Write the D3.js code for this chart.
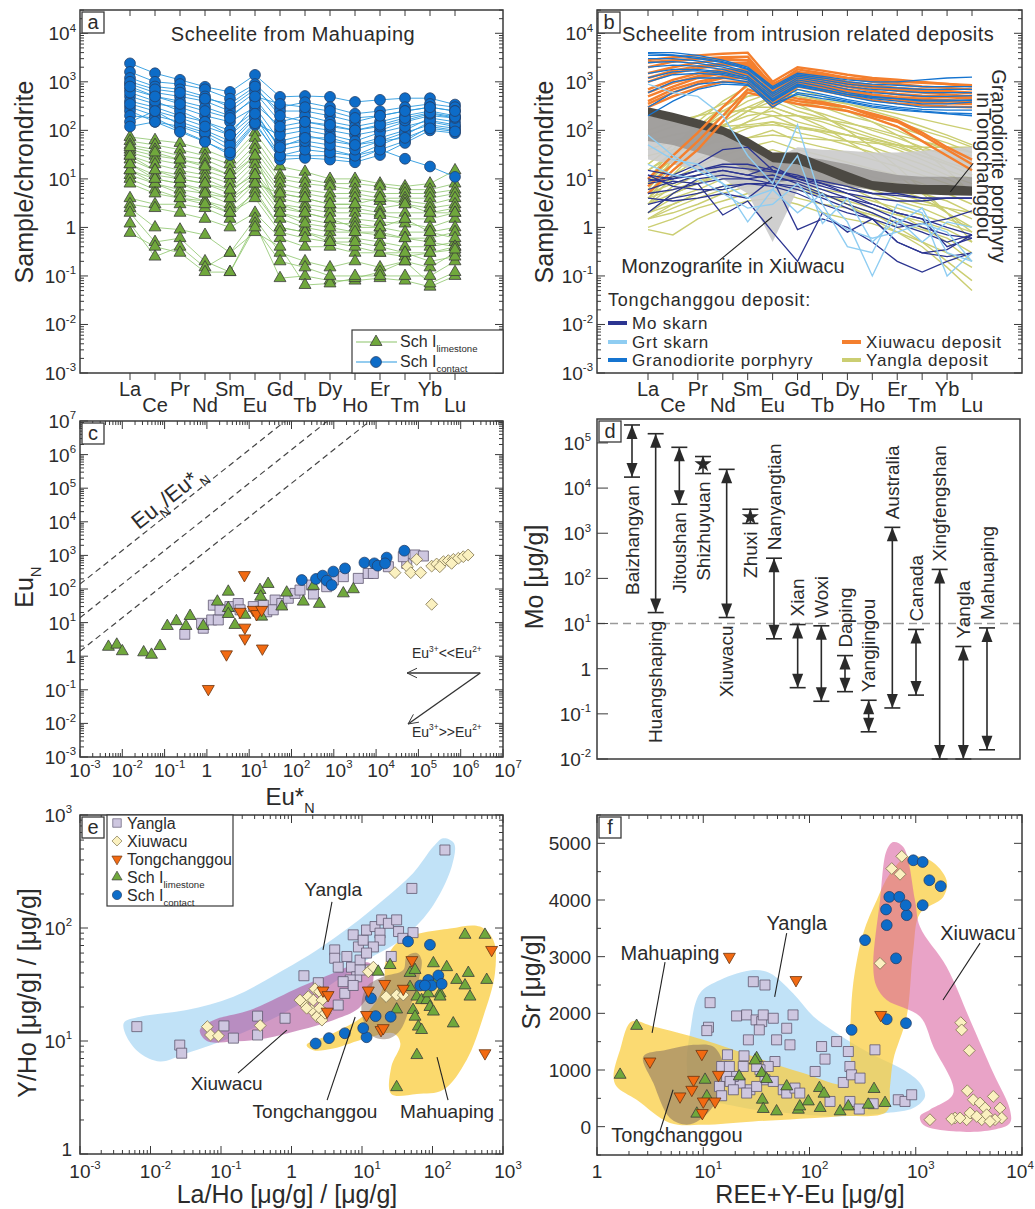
<!DOCTYPE html>
<html>
<head>
<meta charset="utf-8">
<script src="https://cdn.jsdelivr.net/npm/d3@7"></script>
<style>
body { margin: 0; background: #fff; }
text { font-family: "Liberation Sans", Arial, sans-serif; fill: #2b2b2b; }
</style>
</head>
<body>
<svg id="fig" width="1035" height="1209"></svg>
<script>
// ---------------- data ----------------
const REE = ["La","Ce","Pr","Nd","Sm","Eu","Gd","Tb","Dy","Ho","Er","Tm","Yb","Lu"];

// panel a: chondrite-normalised scheelite, Mahuaping
const schContact = [
  [2400,1500,1100,790,620,1390,490,510,490,385,425,460,460,340],
  [1600,1000,900,700,450,900,300,380,300,220,250,300,350,300],
  [1200,800,700,500,300,700,250,250,200,150,200,250,300,250],
  [900,600,500,400,250,600,150,200,150,120,150,200,250,200],
  [700,500,400,300,200,450,100,120,100,80,100,150,200,180],
  [500,350,300,200,150,300,60,80,60,50,70,100,180,150],
  [400,300,200,150,100,250,40,50,40,30,50,80,150,120],
  [300,200,150,100,60,200,30,30,30,25,40,60,120,100],
  [250,150,120,80,40,150,25,27,25,22,31,55,100,88],
  [200,180,100,60,31,130,30,40,35,30,40,26,18,11],
  [150,250,130,90,50,180,50,60,50,40,60,90,130,110],
  [120,150,93,58,35,140,80,100,80,60,90,120,160,130],
  [1000,700,600,450,350,800,200,150,120,100,120,160,220,180],
  [600,400,250,150,80,350,120,150,130,100,130,180,230,190],
  [350,250,180,120,80,220,45,70,70,50,60,70,110,95],
  [800,500,350,250,180,500,350,300,250,180,200,250,300,250]
];
const schLimestone = [
  [73,63,55,40,25,90,18,14,10,10,8,7,8,15],
  [60,50,40,30,20,70,12,10,8,8,7,6,6,8],
  [50,40,30,25,15,50,10,8,7,6,5,5,5,6],
  [40,30,25,20,12,40,8,6,5,5,4,4,4,5],
  [35,25,20,15,10,30,6,5,4,4,3.5,3.5,3,4],
  [30,20,15,12,8,25,5,4,3,3,2.5,3,2.5,3],
  [25,15,12,10,6,20,4,3,2.5,2.5,2,2,2,2.5],
  [20,12,10,8,5,15,3,2.5,2,2,1.8,1.5,1.5,2],
  [15,10,8,6,4,12,2.5,2,1.5,1.5,1.3,1.2,1,1.5],
  [12,8,6,5,3,10,2,1.5,1.2,1.2,1,0.8,0.8,1],
  [10,6,4,3.5,2.5,8,1.5,1,0.8,0.8,0.8,0.6,0.6,0.8],
  [4,3,3,2.5,1.5,6,1,0.8,0.6,0.6,0.5,0.4,0.4,0.5],
  [3,2.5,2,1.5,1,2,0.6,0.4,0.4,0.3,0.3,0.25,0.3,0.4],
  [2.5,1,0.9,0.7,0.3,1.5,0.3,0.2,0.15,0.2,0.15,0.2,0.15,0.3],
  [2,0.5,0.6,0.2,0.12,1.2,0.09,0.1,0.08,0.08,0.09,0.08,0.06,0.1],
  [1.2,0.25,0.4,0.15,0.3,0.8,0.4,0.065,0.07,0.09,0.12,0.2,0.07,0.12],
  [0.77,0.4,0.3,0.12,0.12,1,0.2,0.15,0.1,0.1,0.1,0.1,0.1,0.2],
  [15,8,5,3.5,2,5,1,0.8,0.5,0.4,0.3,0.3,0.2,0.25],
  [20,10,8,5,4,8,5,4,3,3,4,3,2,2],
  [30,15,10,8,6,12,3,2,1.5,1,1,1.5,0.8,0.6],
  [45,35,25,18,12,30,2,1.2,1,0.8,0.7,0.6,0.5,0.4],
  [8,5,4,3,2,4,0.8,0.6,0.5,0.5,0.4,0.3,0.3,0.35]
];

// panel b: intrusion related deposits
const xiuwacuREE = [
  [2800,3200,3500,3800,4000,1000,2000,1700,1400,1200,1100,1000,900,800],
  [2000,2600,3000,3200,3300,800,1800,1500,1200,1000,900,800,750,700],
  [1500,2000,2500,2800,2800,700,1500,1300,1000,850,750,700,650,600],
  [1000,1500,1900,2200,2200,600,1300,1100,900,750,650,600,550,500],
  [700,1100,1500,1800,1800,500,1100,950,800,650,550,500,480,450],
  [500,800,1200,1500,1500,450,1000,850,700,550,480,450,420,400],
  [350,600,900,1200,1200,350,900,750,600,480,420,380,360,350],
  [300,500,750,1000,1000,300,800,650,520,420,360,330,310,300],
  [2500,2800,3000,3000,2800,900,1600,1400,1200,1100,1000,950,900,850],
  [1200,1700,2100,2400,2500,650,1400,1200,950,800,700,650,620,580],
  [600,950,1300,1600,1700,500,1200,1000,800,650,560,520,500,480],
  [400,700,1000,1300,1400,400,950,800,650,520,450,420,400,380],
  [7,20,60,200,700,500,400,350,300,200,150,80,40,20],
  [10,30,90,300,900,600,450,380,300,220,160,90,45,25],
  [5,15,40,150,600,450,350,300,250,180,120,60,30,15]
];
const granodioriteREE = [
  [4000,4000,3500,2800,2000,800,1500,1300,1100,1000,1000,1100,1200,1250],
  [3500,3500,3000,2500,1800,700,1300,1100,900,800,750,700,700,700],
  [3000,3000,2700,2200,1600,600,1200,1000,800,700,650,600,600,600],
  [2500,2600,2400,2000,1500,550,1100,900,700,600,550,500,500,520],
  [2000,2200,2100,1800,1300,500,1000,800,600,500,450,400,400,420],
  [1500,1800,1800,1600,1200,450,900,700,550,450,400,350,350,380],
  [1000,1400,1500,1400,1100,400,800,650,500,400,350,300,300,300],
  [600,1000,1200,1200,1000,350,700,550,430,350,300,270,260,260],
  [300,600,900,1000,900,300,600,500,400,320,280,250,230,220],
  [200,400,700,900,850,350,550,450,380,300,260,240,220,200],
  [3800,3600,3200,2600,1900,750,1400,1200,1000,900,850,800,800,800],
  [1200,1600,1700,1500,1200,420,850,700,550,480,450,420,420,420]
];
const yanglaREE = [
  [10,40,150,400,800,1000,700,500,350,250,180,120,80,50],
  [8,30,120,300,600,900,600,400,300,200,150,100,70,45],
  [6,25,90,250,500,700,500,350,250,180,120,80,55,35],
  [5,20,70,200,400,600,400,300,200,150,100,60,40,25],
  [4,15,50,150,300,500,300,220,150,100,70,45,30,20],
  [3,12,40,120,250,400,250,180,120,80,55,35,22,15],
  [20,50,100,200,300,300,200,150,100,70,50,30,20,12],
  [15,35,70,130,200,250,150,110,80,60,40,25,15,10],
  [10,25,50,90,150,200,120,90,60,45,30,20,12,8],
  [8,20,40,70,110,150,90,70,50,35,25,15,10,6],
  [5,12,25,45,70,100,60,45,35,25,18,12,8,5],
  [4,10,18,30,45,60,40,30,22,16,12,8,5,3],
  [3,7,12,20,30,40,28,20,15,11,8,5,3.5,2],
  [2,5,8,14,20,25,18,13,10,7,5,3.5,2.5,1.5],
  [2,4,6,10,14,18,12,9,7,5,3.5,2.5,1.5,1],
  [1.5,3,5,7,10,12,8,6,5,3.5,2.5,1.8,1.2,0.8],
  [1.5,2,3,5,7,8,6,4.5,3.5,2.5,1.8,1.3,0.9,0.5],
  [1,1.5,2.5,3.5,5,6,4,3,2.5,1.8,1.3,0.9,0.6,0.3],
  [0.9,0.7,1.5,2.5,3.5,4,3,2,1.5,1.2,0.8,0.5,0.3,0.15],
  [60,80,100,120,130,150,120,100,80,60,45,30,20,12],
  [100,150,200,250,250,200,200,170,140,110,80,60,45,35],
  [40,60,80,100,120,130,110,95,80,65,50,40,35,30],
  [30,40,50,60,70,80,70,65,60,55,50,45,45,45],
  [5,8,12,18,25,30,20,15,12,9,6,4,2,1],
  [3,5,8,12,16,20,14,10,7,4,2,1,0.5,0.2],
  [2,3,5,7,9,12,8,5,3,1.5,0.8,0.4,0.15,0.05],
  [10,20,40,80,150,300,200,120,60,30,12,5,2,0.8],
  [15,30,60,120,250,500,350,200,100,45,18,6,2,0.5],
  [20,50,120,300,600,800,600,400,250,150,80,40,15,5],
  [1.5,2.5,4,6,8,10,7,5,3,2,1,0.5,0.2,0.08],
  [4,6,9,13,17,20,15,11,8,6,4,3,2.5,2],
  [80,120,200,350,500,600,500,420,350,280,220,170,130,100]
];
const moSkarnREE = [
  [15,12,20,40,45,15,10,7,5,4,3.5,3.5,4,4],
  [10,8,12,15,12,18,10,8,6,5,5,4,4,4],
  [12,10,15,20,20,15,12,8,5,3,2,1.5,1,0.7],
  [8,10,12,15,12,10,9,6,4,2.5,1.5,1,0.7,0.6],
  [5,6,8,10,10,12,8,5,3,2,1.2,0.8,0.5,0.7],
  [3,4,5,7,8,8,6,4,2.5,1.5,0.5,0.3,0.25,0.3],
  [6,9,8,1.8,3.5,0.8,0.2,2,0.8,1.5,0.5,0.3,0.35,0.7],
  [4,3.5,4,5,4,10,0.9,1.5,1,0.5,0.2,0.12,0.2,0.3],
  [12,7,6,6,8,7,5,3,2,1.5,1,1.2,1.5,2.2],
  [2,5,10,12,10,8,7,4.5,4,3,2,1.5,0.4,0.6],
  [9,11,15,18,16,14,11,9,7,5,4.5,4,4,4]
];
const grtSkarnREE = [
  [900,600,500,200,30,8,130,3,0.4,0.3,3,2,0.1,0.3],
  [80,30,15,8,1.3,6,30,1.2,4,0.5,1.5,0.5,1.3,1],
  [20,12,10,5,2.5,3,8,2,0.9,0.6,0.8,1.2,0.8,0.2],
  [50,25,20,8,4,6,2,5,1.3,0.1,1.2,2.5,0.3,0.2]
];
const monzoUpper = [230,180,140,100,60,25,45,40,38,35,35,38,42,46];
const monzoLower = [25,20,15,10,5,0.5,6,7,8,8,9,10,11,11];
const grdWideUpper = [200,160,120,90,50,30,30,25,20,15,12,11,11,11];
const grdWideLower = [60,50,35,25,15,8,10,8,7,6,6,6,6,6];
const grdCoreUpper = [300,230,170,120,70,35,35,22,14,9,8,7.5,7.5,7];
const grdCoreLower = [200,150,110,80,45,22,20,13,8,6,5,4.8,4.6,4.5];

// panel c: Eu_N vs Eu*_N
const euYangla = [[0.30,4.5],[0.82,6.8],[0.75,9.5],[1.3,12],[1.86,12],[1.42,33],[2.04,24],[3.5,30],[5.5,37],[6.1,24],[12.5,30],[21.6,33],[26,21],[41,47],[37,24],[59,37],[84,53],[121,74],[159,93],[330,71],[300,131],[680,117],[975,185],[1680,233],[3800,207],[6500,290],[8600,290],[19500,460],[53000,580],[83000,1030],[131000,960],[44000,915]];
const euXiuwacu = [[28000,306],[55000,460],[66000,306],[91000,760],[113000,306],[206000,480],[270000,555],[390000,650],[510000,700],[670000,760],[880000,820],[1150000,915],[1500000,1030],[206000,35],[610000,580],[320000,460]];
const euTongchanggou = [[7.7,260],[6.1,21],[7.9,7.1],[7.9,3.4],[12.5,24],[15,18],[19.7,24],[20.5,1.7],[2.9,1.14],[1.08,0.106]];
const euLimestone = [[0.0047,1.9],[0.0074,2.2],[0.010,1.4],[0.032,1.3],[0.049,1.1],[0.078,2.0],[0.116,7.9],[0.19,11],[0.32,7.9],[0.4,15.7],[0.82,7.9],[1.77,42],[3.2,83],[3.2,27],[3.2,18],[4.6,8.5],[7.9,17],[18,93],[18.7,59],[19.7,15],[28,141],[59,30],[77,78],[190,42],[330,123],[455,36],[1680,74],[2900,98]];
const euContact = [[175,185],[380,199],[545,250],[680,177],[890,131],[975,330],[1840,410],[5300,610],[9100,580],[10900,495],[17800,860],[46500,1380],[16300,580]];
const euRatios = [1.4e3, 1.4e4, 1.4e5];

// panel d: Mo contents of scheelite by deposit
const moDeposits = ["Baizhangyan","Huangshaping","Jitoushan","Shizhuyuan","Xiuwacu","Zhuxi","Nanyangtian","Xian","Woxi","Daping","Yangjingou","Australia","Canada","Xingfengshan","Yangla","Mahuaping"];
const moMax = [2.5e5,1.6e5,8e4,5e4,2.6e4,3400,280,9.5,8.9,1.95,0.2,1350,7.4,158,3.1,8];
const moMin = [1.75e4,17.5,4400,2.1e4,13.6,1650,4.6,0.38,0.19,0.31,0.04,0.135,0.26,0.01,0.01,0.016];
const moMean = [null,null,null,3.4e4,null,2300,null,null,null,null,null,null,null,null,null,null];
const moRef = 10;

// panel e: Y/Ho vs La/Ho
const lhYangla = [[0.0064,13.4],[0.026,9.2],[0.0277,7.8],[0.11,13.6],[0.15,10.6],[0.33,11.3],[0.33,16.6],[0.81,15.9],[1.5,37.8],[2.4,32.8],[4.6,20.8],[5.7,26.4],[4.1,64],[4.1,54],[7.5,87],[6.1,56],[7.1,45],[9.4,52],[8.9,68],[10.4,78],[11.6,96],[15.3,103],[18,90],[19,118],[23.7,110],[31,118],[33,93],[18,78],[14.5,68],[8.4,37],[6.8,34.7],[5.4,33.5],[7.5,31],[13,42.5],[26,56],[38,81],[53,91],[51,224],[150,490],[9.4,42.5],[11.6,60],[4.6,45]];
const lhXiuwacu = [[0.064,13.4],[0.071,11.3],[0.092,11.1],[0.36,13.7],[1.47,21.6],[1.73,24.7],[2.15,29],[2.5,27.3],[1.93,18.8],[2.3,16.4],[2.7,15.3],[1.64,19.5],[2.04,23],[2.7,23],[2.5,19.5],[12.3,41],[14.5,45],[22,24.7],[31,25.5],[38.5,25.5],[1.32,23],[3,17.6]];
const lhTongchanggou = [[2.8,28],[3.3,25.5],[3.2,18.2],[12.3,28],[11.6,17],[18.6,12.5],[21,32],[38.5,29],[51,52],[690,64],[555,7.8],[20,13]];
const lhLimestone = [[17,41],[25,47],[31,19],[48,40],[56.5,42.5],[60,24.7],[70,23],[53,18.8],[56.5,16.4],[63,13.4],[70,12.5],[83,23],[87,26.4],[92,20],[103,48.7],[103,18.2],[115,34.7],[128,26.4],[128,24.7],[159,45],[197,14.3],[220,34.7],[289,31],[289,87],[322,40],[340,24.7],[555,87],[587,34.7],[60,7.5],[31,3.9],[48,30]];
const lhContact = [[2.2,9.5],[3.4,10.6],[5.7,11.7],[11.6,10.8],[10.4,13],[13.4,23.9],[15.6,16.6],[25.5,16.4],[45,76],[92,71],[67,31],[87,34.7],[97,31],[121,38],[135,32],[78,31]];
const eYanglaField = [[0.0042,14.5],[0.0071,16.4],[0.0326,18.8],[0.15,24.7],[0.77,42.5],[2.3,64],[6.8,103],[20,177],[53,305],[103,525],[142,622],[202,562],[187,349],[92,144],[35,78],[11.6,52],[3.2,30],[0.77,17.6],[0.15,10.9],[0.0326,7.8],[0.0136,6.6],[0.0071,7.8],[0.0046,10.9]];
const eXiuwacuField = [[0.050,12.5],[0.078,15.3],[0.26,18.8],[1.32,30],[3.9,39.7],[7.5,47],[13,48.7],[14.5,34.7],[9.4,20],[3.9,15.3],[1.32,12.5],[0.44,10.6],[0.15,9.9],[0.063,10]];
const eMahuapingField = [[1.64,9.2],[3.9,11.7],[11.6,17.6],[20,30],[22,52],[35,78],[177,99],[472,103],[730,78],[770,40],[525,16.4],[305,6.8],[142,3.7],[60,3.4],[26,3.4],[26,5.9],[35,9.5],[28,11.7],[11.6,10.6],[3.9,8.6],[2.04,8.3]];
const eTongchanggouField = [[9.9,17.6],[11.6,30],[20,37],[38.5,42.5],[43,56],[60,60],[70,52],[60,30],[48,20],[35,12.5],[25,10.6],[14.5,10.9]];

// panel f: Sr vs REE+Y-Eu
const srYangla = [[11.6,2188],[11.2,1755],[10.8,1695],[16.9,1268],[14.9,1062],[14.2,710],[14.9,546],[20.6,1954],[25.6,1972],[26.6,1532],[24.2,1250],[23.8,1062],[29.6,2558],[38.1,2500],[31.4,1884],[35.5,1854],[33.7,1708],[36.7,1972],[45.6,1913],[47.3,1150],[40.9,1062],[49,1532],[61,1737],[65.5,1444],[70,1972],[56.6,651],[61,593],[73,681],[81,593],[34.2,1004],[38.1,827],[27.5,651],[22.2,769],[19.2,886],[16.6,886],[25.6,593],[31.8,710],[45.6,798],[113,974],[130,1414],[140,1192],[180,1502],[232,1326],[240,1062],[208,780],[249,915],[299,857],[413,1356],[156,445],[240,445],[398,405],[685,475],[792,445],[916,563],[294,311],[17.6,1062],[17.9,798],[31.8,1062],[19.2,651]];
const srXiuwacu = [[738,4771],[594,4555],[711,4454],[461,2882],[2650,1836],[2705,1708],[3190,1344],[3055,634],[3480,475],[4030,417],[4490,329],[5370,534],[6210,329],[6440,153],[5570,123],[4180,123],[3015,123],[2340,153],[2180,135],[1360,123],[3245,241],[4650,211],[3750,181],[2610,153],[5000,93]];
const srTongchanggou = [[3.15,1150],[9.7,1285],[8.1,827],[7.8,651],[6.04,534],[10,445],[12.9,445],[13.9,915],[9.8,241],[17.6,2998],[74.6,2588],[468,1972]];
const srLimestone = [[1.65,915],[2.36,1778],[10.4,827],[8.7,229],[10.8,534],[21.8,886],[31.8,1209],[35.5,945],[36,475],[36.7,311],[39.5,839],[49,269],[61,710],[78.5,299],[81,357],[97.5,445],[124,681],[137,581],[126,329],[194,269],[232,357],[357,387],[405,664],[514,417],[30.7,1167]];
const srContact = [[249,1708],[333,3292],[533,1896],[652,2970],[533,3556],[525,3833],[564,4055],[700,4055],[822,3732],[804,3908],[1162,3908],[809,1826],[948,4701],[1162,4671],[1343,4349],[1718,4243]];
const fMahuapingField = [[1.43,886],[1.65,1356],[2.12,1854],[3.39,1766],[10,1532],[29.6,1238],[87,945],[224,769],[240,1650],[258,2530],[320,3410],[429,3996],[572,4466],[822,4759],[1360,4701],[1950,4349],[1815,4055],[1096,3762],[948,3116],[822,1942],[615,1180],[572,710],[533,269],[180,181],[29.6,93],[10,35],[4.86,65],[2.36,475],[1.53,710]];
const fYanglaField = [[7.5,1650],[9.3,2354],[14.4,2588],[29.6,2764],[42.5,2706],[70,2354],[109,1942],[180,1650],[371,1297],[764,1004],[1096,769],[1222,534],[948,329],[533,241],[180,181],[61,241],[20.6,357],[8.1,593],[7,1062]];
const fXiuwacuField = [[398,2822],[461,3996],[533,4877],[615,5023],[764,4935],[984,3996],[1096,3526],[1950,2822],[3245,1884],[5370,945],[7700,299],[7700,65],[5370,-53],[2260,-83],[1178,35],[1096,181],[1360,299],[2260,593],[1463,1414],[1096,1942],[533,2236],[429,2470]];
const fTongchanggouField = [[2.73,1238],[4.53,1356],[8.1,1444],[12.4,1414],[15.4,1121],[15.4,710],[12.4,357],[9.3,123],[7,35],[4.86,153],[3.39,769]];

// ---------------- drawing helpers ----------------
const svg = d3.select("#fig");
const ink = "#3a3a3a";

function box(x0, y0, x1, y1) {
  svg.append("rect").attr("x", x0).attr("y", y0).attr("width", x1 - x0).attr("height", y1 - y0)
    .attr("fill", "none").attr("stroke", ink).attr("stroke-width", 1.5);
}
function tag(x, y, t) {
  svg.append("rect").attr("x", x).attr("y", y).attr("width", 22).attr("height", 21)
    .attr("fill", "#fff").attr("stroke", ink).attr("stroke-width", 1.3);
  svg.append("text").attr("x", x + 11).attr("y", y + 16.5).attr("text-anchor", "middle")
    .attr("font-size", 20).text(t);
}
function tick(x1, y1, x2, y2) {
  svg.append("line").attr("x1", x1).attr("y1", y1).attr("x2", x2).attr("y2", y2)
    .attr("stroke", ink).attr("stroke-width", 1);
}
// log ticks along one side; dir = +1/-1 direction of the tick from the frame line
function logMarks(scale, axis, at, dir, major, minor) {
  const dom = scale.domain(), lo = Math.min(...dom), hi = Math.max(...dom);
  for (let e = Math.floor(Math.log10(lo)); e <= Math.ceil(Math.log10(hi)); e++) {
    for (let m = 1; m < 10; m++) {
      const v = m * Math.pow(10, e);
      if (v < lo * 0.999 || v > hi * 1.001) continue;
      const p = scale(v), L = m === 1 ? major : minor;
      if (!L) continue;
      if (axis === "y") tick(at, p, at + dir * L, p);
      else tick(p, at, p, at + dir * L);
    }
  }
}
function rich(t, parts, size) {
  let off = 0;
  parts.forEach(([s, k]) => {
    const target = k === "sub" ? size * 0.32 : k === "sup" ? -size * 0.45 : 0;
    t.append("tspan").attr("dy", target - off).attr("font-size", k === "n" ? size : size * 0.6).text(s);
    off = target;
  });
  return t;
}
function powLabel(x, y, e, anchor, size) {
  const t = svg.append("text").attr("x", x).attr("y", y).attr("text-anchor", anchor).attr("font-size", size);
  if (e === 0) { t.text("1"); return t; }
  return rich(t, [["10", "n"], [String(e), "sup"]], size);
}
function vTitle(x, y, parts, size) {
  const t = svg.append("text").attr("transform", `translate(${x},${y}) rotate(-90)`)
    .attr("text-anchor", "middle").attr("font-size", size);
  rich(t, parts, size);
}
function hTitle(x, y, parts, size) {
  const t = svg.append("text").attr("x", x).attr("y", y).attr("text-anchor", "middle").attr("font-size", size);
  rich(t, parts, size);
}

const mk = {
  tri: { d: d3.symbol(d3.symbolTriangle, 62)(), rot: 0, fill: "#70a83c", stroke: "#3b3b3b" },
  dot: { d: d3.symbol(d3.symbolCircle, 92)(), rot: 0, fill: "#0d6cc8", stroke: "#24406a" },
  sq: { d: d3.symbol(d3.symbolSquare, 100)(), rot: 0, fill: "#cec7e0", stroke: "#5f5870" },
  dia: { d: d3.symbol(d3.symbolSquare, 70)(), rot: 45, fill: "#fbf1c0", stroke: "#857a55" },
  inv: { d: d3.symbol(d3.symbolTriangle, 62)(), rot: 180, fill: "#f26a12", stroke: "#6b3510" }
};
function drawPts(data, xs, ys, m) {
  svg.append("g").selectAll("path").data(data).join("path")
    .attr("transform", d => `translate(${xs(d[0])},${ys(d[1])}) rotate(${m.rot})`)
    .attr("d", m.d).attr("fill", m.fill).attr("stroke", m.stroke).attr("stroke-width", 0.8);
}
function lead(xs, ys, a, b) {
  svg.append("line").attr("x1", xs(a[0])).attr("y1", ys(a[1])).attr("x2", xs(b[0])).attr("y2", ys(b[1]))
    .attr("stroke", "#222").attr("stroke-width", 1.1);
}
function note(xs, ys, p, txt, size) {
  svg.append("text").attr("x", xs(p[0])).attr("y", ys(p[1])).attr("text-anchor", "middle")
    .attr("font-size", size).text(txt);
}

// ---------------- panels a & b ----------------
const yRee = d3.scaleLog().domain([1e-3, Math.pow(10, 4.48)]).range([373, 10]);

function reeFrame(x0, x1, xs) {
  box(x0, 10, x1, 373);
  logMarks(yRee, "y", x0, 1, 8, 4);
  logMarks(yRee, "y", x1, -1, 8, 4);
  [-3, -2, -1, 0, 1, 2, 3, 4].forEach(e => powLabel(x0 - 4, yRee(Math.pow(10, e)) + 7, e, "end", 19));
  REE.forEach((el, i) => {
    tick(xs(i), 10, xs(i), 16);
    tick(xs(i), 373, xs(i), 380);
    svg.append("text").attr("x", xs(i)).attr("y", i % 2 ? 412 : 396)
      .attr("text-anchor", "middle").attr("font-size", 20).text(el);
  });
}

// a
const xA = d3.scaleLinear().domain([0, 13]).range([130, 455]);
const lineA = d3.line().x((d, i) => xA(i)).y(d => yRee(d));
svg.append("g").selectAll("path").data(schLimestone).join("path").attr("d", lineA)
  .attr("fill", "none").attr("stroke", "#8cc46a").attr("stroke-width", 0.8);
schLimestone.forEach(r => drawPts(r.map((v, i) => [i, v]), xA, yRee, mk.tri));
svg.append("g").selectAll("path").data(schContact).join("path").attr("d", lineA)
  .attr("fill", "none").attr("stroke", "#2a9ae0").attr("stroke-width", 0.9);
schContact.forEach(r => drawPts(r.map((v, i) => [i, v]), xA, yRee, mk.dot));
reeFrame(80, 503, xA);
tag(82, 12, "a");
svg.append("text").attr("x", 293).attr("y", 41).attr("text-anchor", "middle").attr("font-size", 20)
  .attr("letter-spacing", 0.5).text("Scheelite from Mahuaping");
vTitle(33, 182, [["Sample/chrondrite", "n"]], 25);
// legend a
svg.append("rect").attr("x", 352).attr("y", 330).attr("width", 151).attr("height", 43)
  .attr("fill", "#fff").attr("stroke", ink).attr("stroke-width", 1.2);
[[mk.tri, "#8cc46a", "limestone", 342], [mk.dot, "#2a9ae0", "contact", 362]].forEach(([m, c, s, y]) => {
  svg.append("line").attr("x1", 356).attr("x2", 397).attr("y1", y).attr("y2", y).attr("stroke", c).attr("stroke-width", 1.2);
  svg.append("path").attr("transform", `translate(376,${y})`).attr("d", m.d).attr("fill", m.fill).attr("stroke", m.stroke).attr("stroke-width", 0.8);
  rich(svg.append("text").attr("x", 400).attr("y", y + 5).attr("font-size", 16), [["Sch I", "n"], [s, "sub"]], 16);
});

// b
const xB = d3.scaleLinear().domain([0, 13]).range([648, 972]);
const lineB = d3.line().x((d, i) => xB(i)).y(d => yRee(d));
const bandB = d3.area().x((d, i) => xB(i)).y0(d => yRee(d[0])).y1(d => yRee(d[1]));
function reeLines(rows, col, w) {
  svg.append("g").selectAll("path").data(rows).join("path").attr("d", lineB)
    .attr("fill", "none").attr("stroke", col).attr("stroke-width", w);
}
reeLines(yanglaREE, "#cbce72", 1.4);
svg.append("path").attr("d", bandB(monzoLower.map((v, i) => [v, monzoUpper[i]]))).attr("fill", "#cbcbcb").attr("opacity", 0.92);
svg.append("path").attr("d", bandB(grdWideLower.map((v, i) => [v, grdWideUpper[i]]))).attr("fill", "#9c9a98").attr("opacity", 0.9);
svg.append("path").attr("d", bandB(grdCoreLower.map((v, i) => [v, grdCoreUpper[i]]))).attr("fill", "#4c4943");
reeLines(xiuwacuREE, "#f47f2e", 2.4);
reeLines(granodioriteREE, "#1574d0", 1.3);
reeLines(moSkarnREE, "#2c3591", 1.3);
reeLines(grtSkarnREE, "#8fcdf2", 1.4);
reeFrame(597, 1022, xB);
tag(598, 12, "b");
svg.append("text").attr("x", 808).attr("y", 41).attr("text-anchor", "middle").attr("font-size", 20)
  .attr("letter-spacing", 0.4).text("Scheelite from intrusion related deposits");
vTitle(553, 182, [["Sample/chrondrite", "n"]], 25);
note(xB, yRee, [3.41, 0.115], "Monzogranite in Xiuwacu", 20);
lead(xB, yRee, [2.77, 0.19], [4.98, 1.64]);
lead(xB, yRee, [12.13, 5.4], [13.05, 21]);
svg.append("text").attr("transform", `translate(${xB(14.1)},${yRee(18.5)}) rotate(90)`)
  .attr("text-anchor", "middle").attr("dy", "0.35em").attr("font-size", 20).text("Granodiorite porphyry");
svg.append("text").attr("transform", `translate(${xB(13.5)},${yRee(18.5)}) rotate(90)`)
  .attr("text-anchor", "middle").attr("dy", "0.35em").attr("font-size", 20).text("inTongchanggou");
svg.append("text").attr("x", 608).attr("y", 306).attr("font-size", 18).attr("letter-spacing", 0.8).text("Tongchanggou deposit:");
[["Mo skarn", "#2c3591", 608, 323], ["Grt skarn", "#8fcdf2", 608, 342], ["Granodiorite porphyry", "#1574d0", 608, 360],
 ["Xiuwacu deposit", "#f47f2e", 842, 342], ["Yangla deposit", "#cbce72", 842, 360]].forEach(([s, c, x, y]) => {
  svg.append("line").attr("x1", x).attr("x2", x + 19).attr("y1", y).attr("y2", y).attr("stroke", c).attr("stroke-width", 4);
  svg.append("text").attr("x", x + 24).attr("y", y + 6).attr("font-size", 17).attr("letter-spacing", 0.8).text(s);
});

// ---------------- panel c ----------------
const xC = d3.scaleLog().domain([1e-3, 1e7]).range([80, 503]);
const yC = d3.scaleLog().domain([1e-3, 1e7]).range([757, 421]);
svg.append("defs").append("clipPath").attr("id", "clipC").append("rect")
  .attr("x", 80).attr("y", 421).attr("width", 423).attr("height", 336);
svg.append("g").attr("clip-path", "url(#clipC)").selectAll("line").data(euRatios).join("line")
  .attr("x1", xC(1e-3)).attr("y1", r => yC(1e-3 * r)).attr("x2", r => xC(1e7 / r)).attr("y2", yC(1e7))
  .attr("stroke", "#444").attr("stroke-width", 1.2).attr("stroke-dasharray", "6,4");
drawPts(euYangla, xC, yC, mk.sq);
drawPts(euLimestone, xC, yC, mk.tri);
drawPts(euXiuwacu, xC, yC, mk.dia);
drawPts(euContact, xC, yC, mk.dot);
drawPts(euTongchanggou, xC, yC, mk.inv);
box(80, 421, 503, 757);
logMarks(yC, "y", 80, 1, 8, 4); logMarks(yC, "y", 503, -1, 8, 4);
logMarks(xC, "x", 421, 1, 8, 4); logMarks(xC, "x", 757, -1, 8, 4);
d3.range(-3, 8).forEach(e => powLabel(76, yC(Math.pow(10, e)) + 7, e, "end", 19));
d3.range(-3, 8).forEach(e => powLabel(xC(Math.pow(10, e)) + (e === 0 ? 0 : 5), 777, e, "middle", 19));
tag(82, 423, "c");
vTitle(33, 587, [["Eu", "n"], ["N", "sub"]], 25);
hTitle(290, 805, [["Eu*", "n"], ["N", "sub"]], 24);
const ang = -Math.atan((yC(1) - yC(10)) / (xC(10) - xC(1))) * 180 / Math.PI;
rich(svg.append("text").attr("transform", `translate(${xC(0.158)},${yC(3.6e4)}) rotate(${ang})`)
  .attr("text-anchor", "middle").attr("font-size", 22), [["Eu", "n"], ["N", "sub"], ["/Eu*", "n"], ["N", "sub"]], 22);
function arrow(x1, y1, x2, y2) {
  svg.append("line").attr("x1", x1).attr("y1", y1).attr("x2", x2).attr("y2", y2).attr("stroke", "#333").attr("stroke-width", 1.4);
  const a = Math.atan2(y2 - y1, x2 - x1);
  [0.45, -0.45].forEach(d => tick(x2, y2, x2 - 11 * Math.cos(a + d), y2 - 11 * Math.sin(a + d)));
}
arrow(xC(2.9e6), yC(0.316), xC(5.4e4), yC(0.316));
arrow(xC(2.9e6), yC(0.316), xC(5.7e4), yC(0.0096));
rich(svg.append("text").attr("x", xC(4.7e5)).attr("y", yC(0.89)).attr("text-anchor", "middle").attr("font-size", 14),
  [["Eu", "n"], ["3+", "sup"], ["<<Eu", "n"], ["2+", "sup"]], 14);
rich(svg.append("text").attr("x", xC(4.7e5)).attr("y", yC(0.004)).attr("text-anchor", "middle").attr("font-size", 14),
  [["Eu", "n"], ["3+", "sup"], [">>Eu", "n"], ["2+", "sup"]], 14);

// ---------------- panel d ----------------
const xD = d3.scalePoint().domain(moDeposits).range([632, 987]);
const yD = d3.scaleLog().domain([1e-2, Math.pow(10, 5.53)]).range([759, 419]);
svg.append("line").attr("x1", 597).attr("x2", 1020).attr("y1", yD(moRef)).attr("y2", yD(moRef))
  .attr("stroke", "#9a9a9a").attr("stroke-width", 1.4).attr("stroke-dasharray", "8,5");
moDeposits.forEach((name, i) => {
  const x = xD(name), yt = yD(moMax[i]), yb = yD(moMin[i]);
  svg.append("line").attr("x1", x).attr("x2", x).attr("y1", yt).attr("y2", yb).attr("stroke", "#2a2a2a").attr("stroke-width", 1.6);
  [yt, yb].forEach(y => svg.append("line").attr("x1", x - 8).attr("x2", x + 8).attr("y1", y).attr("y2", y).attr("stroke", "#2a2a2a").attr("stroke-width", 1.6));
  if (moMean[i] !== null) {
    svg.append("path").attr("transform", `translate(${x},${yD(moMean[i])})`).attr("d", d3.symbol(d3.symbolStar, 90)()).attr("fill", "#2a2a2a");
  } else {
    svg.append("path").attr("d", `M${x},${yt}L${x - 5.5},${yt + 14}L${x + 5.5},${yt + 14}Z`).attr("fill", "#2a2a2a");
    svg.append("path").attr("d", `M${x},${yb}L${x - 5.5},${yb - 14}L${x + 5.5},${yb - 14}Z`).attr("fill", "#2a2a2a");
  }
  const below = i < 6;
  svg.append("text").attr("transform", `translate(${x},${below ? yb + 8 : yt - 8}) rotate(-90)`)
    .attr("text-anchor", below ? "end" : "start").attr("dy", "0.35em").attr("font-size", 19).text(name);
});
box(597, 419, 1020, 759);
logMarks(yD, "y", 597, 1, 11, 0);
d3.range(-2, 6).forEach(e => powLabel(591, yD(Math.pow(10, e)) + 7, e, "end", 19));
tag(599, 421, "d");
vTitle(543, 577, [["Mo [μg/g]", "n"]], 25);

// ---------------- panel e ----------------
const xE = d3.scaleLog().domain([1e-3, 1e3]).range([80, 503]);
const yE = d3.scaleLog().domain([1, 1e3]).range([1154, 815]);
const blobE = d3.line().x(d => xE(d[0])).y(d => yE(d[1])).curve(d3.curveCatmullRomClosed.alpha(0.5));
svg.append("path").attr("d", blobE(eYanglaField)).attr("fill", "#a6d6f4").attr("opacity", 0.7);
svg.append("path").attr("d", blobE(eXiuwacuField)).attr("fill", "#b2559c").attr("opacity", 0.6);
svg.append("path").attr("d", blobE(eMahuapingField)).attr("fill", "#f9cc3c").attr("opacity", 0.75);
svg.append("path").attr("d", blobE(eTongchanggouField)).attr("fill", "#857060").attr("opacity", 0.5);
drawPts(lhYangla, xE, yE, mk.sq);
drawPts(lhXiuwacu, xE, yE, mk.dia);
drawPts(lhLimestone, xE, yE, mk.tri);
drawPts(lhContact, xE, yE, mk.dot);
drawPts(lhTongchanggou, xE, yE, mk.inv);
box(80, 815, 503, 1154);
logMarks(yE, "y", 80, 1, 8, 4); logMarks(yE, "y", 503, -1, 8, 4);
logMarks(xE, "x", 815, 1, 8, 4); logMarks(xE, "x", 1154, -1, 8, 4);
d3.range(0, 4).forEach(e => powLabel(72, yE(Math.pow(10, e)) + (e === 0 ? 2 : 7), e, "end", 19));
d3.range(-3, 4).forEach(e => powLabel(xE(Math.pow(10, e)) + (e === 0 ? 0 : 5), 1178, e, "middle", 19));
tag(82, 817, "e");
vTitle(36, 993, [["Y/Ho [μg/g] / [μg/g]", "n"]], 25);
hTitle(287, 1203, [["La/Ho [μg/g] / [μg/g]", "n"]], 25);
note(xE, yE, [3.9, 192], "Yangla", 19);
lead(xE, yE, [3.75, 170], [2.8, 64]);
note(xE, yE, [0.12, 3.7], "Xiuwacu", 19);
lead(xE, yE, [0.174, 5.2], [0.86, 12.5]);
note(xE, yE, [2.15, 2.1], "Tongchanggou", 19);
lead(xE, yE, [3.2, 3.0], [8, 16.3]);
note(xE, yE, [161, 2.1], "Mahuaping", 19);
lead(xE, yE, [166, 3.0], [116, 7.2]);
// legend e
svg.append("rect").attr("x", 107).attr("y", 815).attr("width", 126).attr("height", 91)
  .attr("fill", "#fff").attr("stroke", ink).attr("stroke-width", 1.2);
[[mk.sq, [["Yangla", "n"]], 823], [mk.dia, [["Xiuwacu", "n"]], 841], [mk.inv, [["Tongchanggou", "n"]], 859],
 [mk.tri, [["Sch I", "n"], ["limestone", "sub"]], 877], [mk.dot, [["Sch I", "n"], ["contact", "sub"]], 895]].forEach(([m, parts, y]) => {
  svg.append("path").attr("transform", `translate(117,${y}) rotate(${m.rot}) scale(0.85)`).attr("d", m.d)
    .attr("fill", m.fill).attr("stroke", m.stroke).attr("stroke-width", 0.8);
  rich(svg.append("text").attr("x", 127).attr("y", y + 6).attr("font-size", 16), parts, 16);
});

// ---------------- panel f ----------------
const xF = d3.scaleLog().domain([1, 1e4]).range([597, 1022]);
const yF = d3.scaleLinear().domain([-500, 5500]).range([1155, 815]);
const blobF = d3.line().x(d => xF(d[0])).y(d => yF(d[1])).curve(d3.curveCatmullRomClosed.alpha(0.5));
svg.append("path").attr("d", blobF(fYanglaField)).attr("fill", "#a6d6f4").attr("opacity", 0.7);
svg.append("path").attr("d", blobF(fMahuapingField)).attr("fill", "#f9cc3c").attr("opacity", 0.72);
svg.append("path").attr("d", blobF(fXiuwacuField)).attr("fill", "#d9609e").attr("opacity", 0.58);
svg.append("path").attr("d", blobF(fTongchanggouField)).attr("fill", "#857060").attr("opacity", 0.55);
drawPts(srYangla, xF, yF, mk.sq);
drawPts(srLimestone, xF, yF, mk.tri);
drawPts(srXiuwacu, xF, yF, mk.dia);
drawPts(srContact, xF, yF, mk.dot);
drawPts(srTongchanggou, xF, yF, mk.inv);
box(597, 815, 1022, 1155);
logMarks(xF, "x", 815, 1, 8, 4); logMarks(xF, "x", 1155, -1, 8, 4);
d3.range(-500, 5501, 500).forEach(v => {
  const L = v % 1000 === 0 ? 8 : 4;
  tick(597, yF(v), 597 + L, yF(v)); tick(1022, yF(v), 1022 - L, yF(v));
});
d3.range(0, 5001, 1000).forEach(v => svg.append("text").attr("x", 591).attr("y", yF(v) + 7)
  .attr("text-anchor", "end").attr("font-size", 19).text(v));
d3.range(0, 5).forEach(e => powLabel(xF(Math.pow(10, e)) + (e === 0 ? 0 : e === 4 ? -2 : 5), 1178, e, "middle", 19));
tag(599, 817, "f");
vTitle(540, 982, [["Sr [μg/g]", "n"]], 25);
hTitle(810, 1203, [["REE+Y-Eu [μg/g]", "n"]], 25);
note(xF, yF, [76, 3468], "Yangla", 20);
lead(xF, yF, [61, 3415], [47, 2289]);
note(xF, yF, [4.86, 2940], "Mahuaping", 20);
lead(xF, yF, [4.37, 2905], [3.3, 1655]);
note(xF, yF, [5.66, -264], "Tongchanggou", 20);
lead(xF, yF, [3.9, -88], [5.2, 651]);
note(xF, yF, [3850, 3292], "Xiuwacu", 20);
lead(xF, yF, [4030, 3239], [1805, 2236]);
</script>
</body>
</html>
